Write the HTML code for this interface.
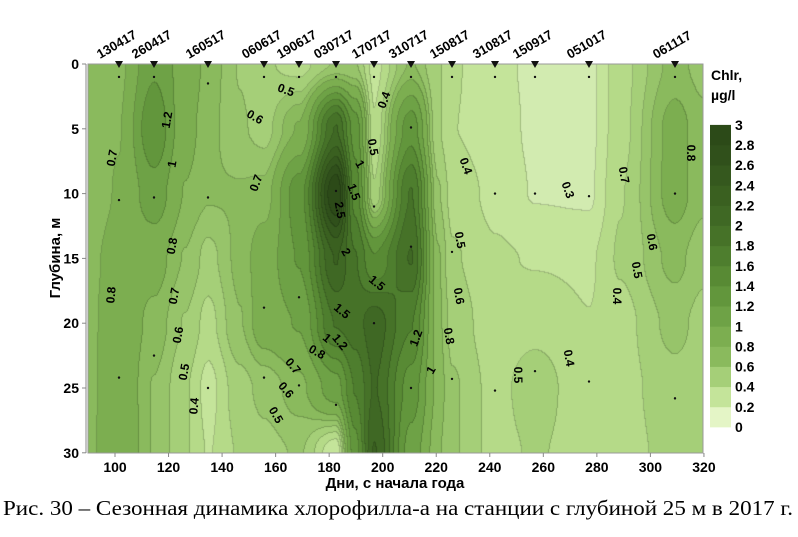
<!DOCTYPE html>
<html><head><meta charset="utf-8"><style>
body{margin:0;background:#fff;width:798px;height:537px;overflow:hidden;position:relative;font-family:"Liberation Sans",sans-serif}
canvas{position:absolute;left:88px;top:64px}
svg{position:absolute;left:0;top:0}
</style></head><body>
<canvas id="c" width="615" height="389"></canvas>
<svg width="798" height="537" xmlns="http://www.w3.org/2000/svg" font-family="Liberation Sans, sans-serif">
<g id="ov"></g>
</svg>
<script>
var L=88,T=64,W=615,H=389;
var nodes=[
[88,[0.7,0.7,0.7,0.75,0.75,0.75,0.75]],
[119,[0.75,0.78,0.8,0.85,0.9,0.92,0.95]],
[154,[1.15,1.35,1.1,0.85,0.75,0.68,0.68]],
[185,[0.9,0.85,0.78,0.68,0.58,0.5,0.5]],
[208,[0.75,0.72,0.7,0.55,0.45,0.35,0.38]],
[240,[0.58,0.6,0.7,0.72,0.68,0.55,0.5]],
[264,[0.5,0.55,0.72,0.88,0.88,0.62,0.55]],
[299,[0.45,0.8,1.3,1.2,1.0,0.75,0.6]],
[336,[0.6,2.0,3.0,2.2,1.8,1.1,0.3]],
[355,[0.6,1.3,1.5,1.8,1.9,1.6,1.3]],
[374,[0.35,0.4,0.5,1.4,2.1,2.0,2.2]],
[411,[0.7,1.3,1.8,2.0,1.6,1.3,1.1]],
[438,[0.5,0.5,0.6,0.7,0.72,0.75,0.7]],
[452,[0.4,0.39,0.45,0.5,0.55,0.6,0.6]],
[495,[0.31,0.33,0.36,0.4,0.42,0.45,0.45]],
[535,[0.27,0.27,0.28,0.38,0.45,0.55,0.5]],
[589,[0.26,0.26,0.27,0.37,0.39,0.39,0.42]],
[620,[0.45,0.45,0.48,0.5,0.45,0.45,0.45]],
[675,[0.72,0.84,0.84,0.72,0.62,0.55,0.52]],
[703,[0.65,0.72,0.72,0.62,0.55,0.52,0.52]]];
var lv=[0.2,0.3,0.4,0.5,0.6,0.7,0.8,1,1.2,1.4,1.6,1.8,2,2.2,2.4,2.6,2.8];
var cols=["#e4f5c6","#d2ebb0","#c4e49a","#b5da88","#a5cf78","#97c46a","#8aba5d","#7cae50","#6ea246","#62963c","#588a34","#4e7e2e","#467228","#3f6824","#3a6020","#35581e","#30501b","#2c4a18"];
function hex(h){return [parseInt(h.substr(1,2),16),parseInt(h.substr(3,2),16),parseInt(h.substr(5,2),16)]}
var rgb=cols.map(hex);
function sm(t){return t*t*(3-2*t)}
function prof(p,d){var f=d/5,i=Math.min(5,Math.floor(f)),t=sm(f-i);return p[i]*(1-t)+p[i+1]*t}
function val(x,d){var px=x+L;for(var k=0;k<nodes.length-1;k++){if(px<=nodes[k+1][0]){var a=nodes[k],b=nodes[k+1],t=sm((px-a[0])/(b[0]-a[0]));return prof(a[1],d)*(1-t)+prof(b[1],d)*t}}return prof(nodes[nodes.length-1][1],d)}
function lev(v){var i=0;while(i<lv.length&&v>=lv[i])i++;return i}
var c=document.getElementById('c').getContext('2d');var img=c.createImageData(W,H);
var g=[];for(var y=0;y<H;y++){g[y]=[];for(var x=0;x<W;x++){g[y][x]=lev(val(x,y*30/388)+0.013)}}
for(var y=0;y<H;y++)for(var x=0;x<W;x++){var l=g[y][x],col=rgb[l].slice();
var e=(x+1<W&&g[y][x+1]!=l)||(y+1<H&&g[y+1][x]!=l);if(e){col=col.map(function(v){return v*0.82})}
var o=(y*W+x)*4;img.data[o]=col[0];img.data[o+1]=col[1];img.data[o+2]=col[2];img.data[o+3]=255}
c.putImageData(img,0,0);
var s='';
s+='<rect x="88" y="64" width="615" height="389" fill="none" stroke="#999" stroke-width="1"/>';
s+='<line x1="86" y1="64" x2="86" y2="453" stroke="#888"/>';
for(var i=0;i<=6;i++){var y=64+i*64.8;s+='<line x1="82" y1="'+y+'" x2="86" y2="'+y+'" stroke="#888"/><text x="79" y="'+(y+5)+'" text-anchor="end" font-size="14" font-weight="bold">'+(i*5)+'</text>';}
for(var i=0;i<=11;i++){var d=100+i*20,x=115+(d-100)*2.677;s+='<line x1="'+x+'" y1="453" x2="'+x+'" y2="457" stroke="#888"/><text x="'+x+'" y="472" text-anchor="middle" font-size="14" font-weight="bold">'+d+'</text>';}
s+='<text x="395" y="488" text-anchor="middle" font-size="15" font-weight="bold">Дни, с начала года</text>';
s+='<text transform="translate(60,258) rotate(-90)" text-anchor="middle" font-size="15" font-weight="bold">Глубина, м</text>';
s+='<text x="3" y="515" font-size="21" textLength="790" lengthAdjust="spacingAndGlyphs" font-family="Liberation Serif, serif">Рис. 30 – Сезонная динамика хлорофилла-а на станции с глубиной 25 м в 2017 г.</text>';
var st=[[119,'130417'],[154,'260417'],[208,'160517'],[264,'060617'],[299,'190617'],[336,'030717'],[374,'170717'],[411,'310717'],[452,'150817'],[495,'310817'],[535,'150917'],[589,'051017'],[675,'061117']];
var dots={119:[1,10.5,24.2],154:[1,10.3,22.5],208:[1.5,10.3,25],264:[1,18.8,24.2],299:[1,18,24.8],336:[1,9.8,26.3],374:[1,11,20],411:[1,4.9,14.1,25],452:[1,14.5,24.3],495:[1,10,25.2],535:[1,10,23.7],589:[1,10.2,24.5],675:[1,10,25.8]};
st.forEach(function(a){var x=a[0];s+='<polygon points="'+(x-4)+',61 '+(x+4)+',61 '+x+',68" fill="#111"/>';
s+='<text transform="translate('+(x-19)+',59) rotate(-30)" font-size="13" font-weight="bold">'+a[1]+'</text>';
(dots[x]||[]).forEach(function(d){s+='<circle cx="'+x+'" cy="'+(64+d*12.96)+'" r="1.2" fill="#111"/>'})});
var lab=[[112,158,'0.7',-80],[167,120,'1.2',-80],[172,164,'1',-80],[111,295,'0.8',-85],[172,246,'0.8',-80],[174,296,'0.7',-80],[178,335,'0.6',-80],[184,372,'0.5',-80],[194,406,'0.4',-85],[286,90,'0.5',20],[255,117,'0.6',30],[256,183,'0.7',-70],[384,100,'0.4',-70],[373,147,'0.5',80],[360,164,'1',60],[354,192,'1.5',70],[340,210,'2.5',80],[346,252,'2',60],[377,283,'1.5',40],[342,311,'1.5',40],[340,342,'1.2',50],[327,338,'1',40],[317,352,'0.8',30],[293,366,'0.7',50],[286,390,'0.6',50],[276,415,'0.5',60],[466,166,'0.4',70],[460,240,'0.5',80],[459,296,'0.6',80],[449,336,'0.8',80],[416,338,'1.2',-70],[431,370,'1',-60],[568,190,'0.3',70],[518,375,'0.5',90],[569,358,'0.4',80],[624,175,'0.7',80],[652,242,'0.6',80],[637,270,'0.5',80],[617,296,'0.4',90],[691,153,'0.8',90]];
lab.forEach(function(a){s+='<text transform="translate('+a[0]+','+a[1]+') rotate('+a[3]+')" text-anchor="middle" dy="4" font-size="12" font-weight="bold">'+a[2]+'</text>'});
s+='<text x="711" y="80" font-size="14" font-weight="bold">Chlr,</text><text x="711" y="100" font-size="14" font-weight="bold">µg/l</text>';
var bl=[0,0.2,0.4,0.6,0.8,1,1.2,1.4,1.6,1.8,2,2.2,2.4,2.6,2.8,3];
for(var i=0;i<15;i++){var v=(bl[i]+bl[i+1])/2,y0=427-(bl[i+1])*100.7;s+='<rect x="710" y="'+y0+'" width="21" height="20.5" fill="'+cols[lev(v)]+'"/>';}
for(var i=0;i<16;i++){var y=427-bl[i]*100.7;s+='<text x="735" y="'+(y+5)+'" font-size="14" font-weight="bold">'+bl[i]+'</text>';}
document.getElementById('ov').innerHTML=s;
</script>
</body></html>
